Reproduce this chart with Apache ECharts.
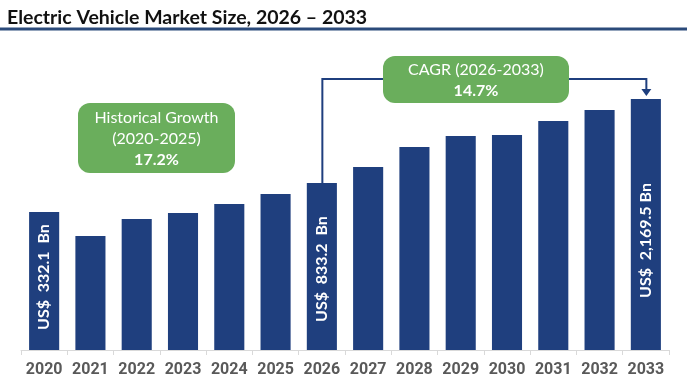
<html lang="en">
<head>
  <meta charset="utf-8"/>
  <script src="https://cdn.jsdelivr.net/npm/echarts@6/dist/echarts.min.js"></script>
  <style>
    html, body { margin: 0; padding: 0; background: #fff; }
    #chart { width: 687px; height: 386px; }
  </style>
</head>
<body>
<div id="chart"></div>
<script>
  // years on the x axis
  var years = ['2020', '2021', '2022', '2023', '2024', '2025', '2026',
               '2027', '2028', '2029', '2030', '2031', '2032', '2033'];
  // bar heights as drawn in the picture (relative units, the graphic is not to scale)
  var barHeights = [138, 114, 131, 137, 146, 156, 167, 183, 203, 214, 215, 229, 240, 251];
  // value labels written inside some bars
  var barLabels = {0: 'US$  332.1  Bn', 6: 'US$  833.2  Bn', 13: 'US$  2,169.5 Bn'};
  var histText = ['Historical Growth', '(2020-2025)', '17.2%'];
  var cagrText = ['CAGR (2026-2033)', '14.7%'];

  var navy = '#1f3f7e';
  var green = '#6aae5c';
  // how far up from the bar base each label starts
  var labelDist = {0: 20, 6: 28, 13: 52};

  var myChart = echarts.init(document.getElementById('chart'));

  var seriesData = barHeights.map(function (v, i) {
      var item = {value: v};
      if (barLabels[i]) {
          item.label = {
              show: true,
              formatter: barLabels[i],
              position: 'insideBottom',
              distance: labelDist[i],
              rotate: 90,
              align: 'left',
              verticalAlign: 'middle',
              color: '#fff',
              fontFamily: 'Lato',
              fontWeight: 'bold',
              fontSize: 16
          };
      }
      return item;
  });

  var option = {
      animation: false,
      title: {
          text: 'Electric Vehicle Market Size, 2026 \u2013 2033',
          left: 2,
          top: 3,
          textStyle: {
              fontFamily: 'Lato',
              fontWeight: 'bold',
              fontSize: 19.5,
              color: '#111'
          }
      },
      grid: {
          left: 21,
          right: 18,
          top: 90,
          bottom: 36
      },
      xAxis: {
          type: 'category',
          data: years,
          axisLine: {lineStyle: {color: '#d9d9d9', width: 1}},
          axisTick: {show: true, length: 5, lineStyle: {color: '#d9d9d9'}},
          axisLabel: {
              interval: 0,
              color: '#595959',
              fontFamily: 'Roboto',
              fontWeight: 'bold',
              fontSize: 16,
              margin: 12
          }
      },
      yAxis: {
          type: 'value',
          min: 0,
          max: 260,
          show: false
      },
      series: [{
          type: 'bar',
          data: seriesData,
          barWidth: '65%',
          itemStyle: {color: navy}
      }]
  };
  myChart.setOption(option);

  // connector + annotation boxes, anchored to the bars
  var p26 = myChart.convertToPixel({seriesIndex: 0}, [6, barHeights[6]]);
  var p33 = myChart.convertToPixel({seriesIndex: 0}, [13, barHeights[13]]);
  var lineY = 79;

  myChart.setOption({
      graphic: [
          // rule under the title
          {type: 'rect', shape: {x: 0, y: 27.5, width: 687, height: 3}, style: {fill: '#2b4a7a'}},
          // connector line
          {
              type: 'polyline',
              shape: {points: [[p26[0] + 0.5, p26[1]], [p26[0] + 0.5, lineY], [p33[0] + 0.5, lineY], [p33[0] + 0.5, p33[1] - 9]]},
              style: {stroke: navy, lineWidth: 2, fill: null}
          },
          {
              type: 'polygon',
              shape: {points: [[p33[0] - 4.5, p33[1] - 10], [p33[0] + 5.5, p33[1] - 10], [p33[0] + 0.5, p33[1] - 3]]},
              style: {fill: navy}
          },
          // historical growth box
          {
              type: 'rect',
              shape: {x: 78, y: 103, width: 157, height: 70, r: 12},
              style: {fill: green}
          },
          {type: 'text', x: 156.5, y: 118, style: {text: histText[0], fill: '#fff', font: '16px Lato', align: 'center', verticalAlign: 'middle'}},
          {type: 'text', x: 156.5, y: 139, style: {text: histText[1], fill: '#fff', font: '16px Lato', align: 'center', verticalAlign: 'middle'}},
          {type: 'text', x: 156.5, y: 160, style: {text: histText[2], fill: '#fff', font: 'bold 16px Lato', align: 'center', verticalAlign: 'middle'}},
          // CAGR box
          {
              type: 'rect',
              shape: {x: 383, y: 56, width: 186, height: 47, r: 12},
              style: {fill: green}
          },
          {type: 'text', x: 476, y: 70, style: {text: cagrText[0], fill: '#fff', font: '16px Lato', align: 'center', verticalAlign: 'middle'}},
          {type: 'text', x: 476, y: 91, style: {text: cagrText[1], fill: '#fff', font: 'bold 16px Lato', align: 'center', verticalAlign: 'middle'}}
      ]
  });
</script>
</body>
</html>
